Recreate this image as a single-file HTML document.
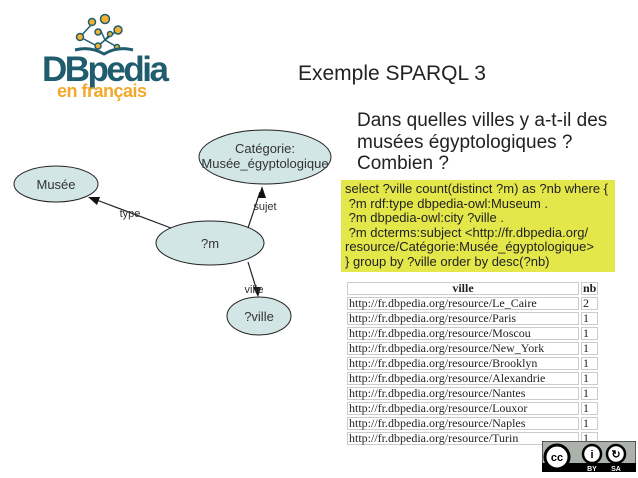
<!DOCTYPE html>
<html><head><meta charset="utf-8"><style>
body{margin:0;width:638px;height:478px;background:#fff;position:relative;overflow:hidden;font-family:"Liberation Sans",sans-serif}
.a{position:absolute}
table{border-collapse:separate;border-spacing:2px;font-family:"Liberation Serif",serif;font-size:12px;color:#222}
td{border:1px solid #ccc;height:11px;line-height:11px;padding:0 1px;white-space:nowrap}
th{border:1px solid #ccc;height:11px;line-height:11px;padding:0 1px;font-weight:bold}
</style></head><body>
<svg class="a" style="left:0;top:0" width="638" height="478">
<g fill="#f2b233" stroke="#1f5c6e" stroke-width="1.5">
<line x1="100" y1="29" x2="105" y2="40"/><line x1="105" y1="40" x2="98" y2="46"/><line x1="105" y1="40" x2="110" y2="34"/><line x1="105" y1="40" x2="118" y2="30"/><line x1="105" y1="40" x2="117" y2="47"/><line x1="97" y1="46" x2="80" y2="37"/><line x1="80" y1="37" x2="92" y2="24"/>
<circle cx="92" cy="22" r="3.5"/><circle cx="105" cy="19" r="4.5"/><circle cx="118" cy="30" r="4"/><circle cx="80" cy="37" r="3.5"/><circle cx="98" cy="32" r="3"/><circle cx="110" cy="34" r="2.5"/><circle cx="98" cy="46" r="3"/><circle cx="117" cy="47" r="2.5"/></g>
<path d="M75 50 Q90 46 104 54 Q118 46 133 50" fill="none" stroke="#1f5c6e" stroke-width="3"/>
<text x="42" y="81" font-family="Liberation Sans" font-weight="bold" font-size="35" fill="#1f5c6e" letter-spacing="-2.5">DBpedia</text>
<text x="57" y="97" font-family="Liberation Sans" font-weight="bold" font-size="18" fill="#f2a92b" letter-spacing="-0.5">en français</text>
<g fill="#d3e6e6" stroke="#222" stroke-width="1">
<ellipse cx="265" cy="157" rx="66" ry="27"/>
<ellipse cx="56" cy="184" rx="42" ry="18"/>
<ellipse cx="210" cy="243" rx="54" ry="22"/>
<ellipse cx="259" cy="316" rx="32" ry="19"/>
</g>
<g stroke="#222" stroke-width="1.2">
<line x1="171" y1="228" x2="94" y2="199"/><line x1="248" y1="228" x2="260" y2="192"/><line x1="248" y1="262" x2="257" y2="291"/></g>
<g fill="#111"><polygon points="88,197 100,197 97,205"/><polygon points="262,186 258,198 266,198"/><polygon points="258,297 253,287 261,287"/></g>
<g font-family="Liberation Sans" font-size="12" fill="#333" text-anchor="middle">
<text x="265" y="153" font-size="13">Catégorie:</text><text x="265" y="168" font-size="13">Musée_égyptologique</text>
<text x="56" y="189" font-size="13">Musée</text><text x="210" y="248" font-size="13">?m</text><text x="259" y="321" font-size="13">?ville</text>
<text x="130" y="217" font-size="11">type</text><text x="265" y="210" font-size="11">sujet</text><text x="254" y="293" font-size="11">ville</text></g>
</svg>
<div class="a" style="left:298px;top:62px;font-size:21px;color:#222">Exemple SPARQL 3</div>
<div class="a" style="left:357px;top:110px;font-size:19px;line-height:21.5px;color:#222">Dans quelles villes y a-t-il des<br>musées égyptologiques ?<br>Combien ?</div>
<div class="a" style="left:341px;top:180px;width:270px;height:88px;background:#e3e74a;padding:2px 0 2px 4px;font-size:13px;line-height:14.6px;color:#222;white-space:nowrap">select ?ville count(distinct ?m) as ?nb where {<br>&nbsp;?m rdf:type dbpedia-owl:Museum .<br>&nbsp;?m dbpedia-owl:city ?ville .<br>&nbsp;?m dcterms:subject &lt;http://fr.dbpedia.org/<br>resource/Catégorie:Musée_égyptologique&gt;<br>} group by ?ville order by desc(?nb)</div>
<div class="a" style="left:345px;top:280px"><table>
<tr><th style="width:228px">ville</th><th>nb</th></tr>
<tr><td>http://fr.dbpedia.org/resource/Le_Caire</td><td>2</td></tr>
<tr><td>http://fr.dbpedia.org/resource/Paris</td><td>1</td></tr>
<tr><td>http://fr.dbpedia.org/resource/Moscou</td><td>1</td></tr>
<tr><td>http://fr.dbpedia.org/resource/New_York</td><td>1</td></tr>
<tr><td>http://fr.dbpedia.org/resource/Brooklyn</td><td>1</td></tr>
<tr><td>http://fr.dbpedia.org/resource/Alexandrie</td><td>1</td></tr>
<tr><td>http://fr.dbpedia.org/resource/Nantes</td><td>1</td></tr>
<tr><td>http://fr.dbpedia.org/resource/Louxor</td><td>1</td></tr>
<tr><td>http://fr.dbpedia.org/resource/Naples</td><td>1</td></tr>
<tr><td>http://fr.dbpedia.org/resource/Turin</td><td>1</td></tr>
</table></div>
<svg class="a" style="left:542px;top:441px" width="94" height="31">
<rect x="0" y="0" width="94" height="31" fill="#aab2ab" stroke="#000"/>
<rect x="0" y="22" width="94" height="9" fill="#000"/>
<circle cx="15" cy="16" r="12" fill="#fff" stroke="#000" stroke-width="3"/>
<text x="15" y="20" font-size="11" font-weight="bold" text-anchor="middle" font-family="Liberation Sans">cc</text>
<circle cx="50" cy="13" r="9" fill="#fff" stroke="#000" stroke-width="2.5"/>
<circle cx="74" cy="13" r="9" fill="#fff" stroke="#000" stroke-width="2.5"/>
<text x="50" y="17" font-size="11" font-weight="bold" text-anchor="middle">i</text>
<text x="74" y="17" font-size="11" font-weight="bold" text-anchor="middle">↻</text>
<text x="50" y="30" font-size="7" fill="#fff" font-weight="bold" text-anchor="middle">BY</text>
<text x="74" y="30" font-size="7" fill="#fff" font-weight="bold" text-anchor="middle">SA</text>
</svg>
</body></html>
